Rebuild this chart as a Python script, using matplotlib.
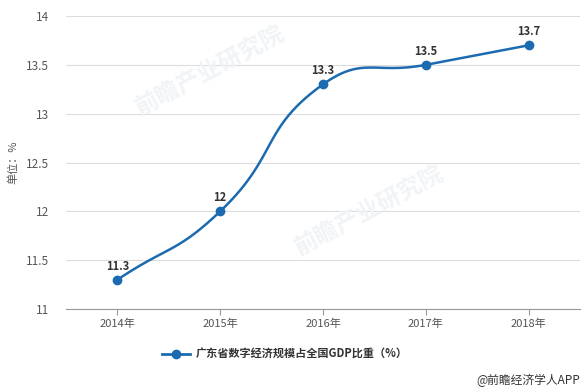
import numpy as np
import matplotlib.pyplot as plt

plt.rcParams['font.family'] = ['Noto Sans CJK SC', 'DejaVu Sans']

years = ['2014年', '2015年', '2016年', '2017年', '2018年']
share = [11.3, 12, 13.3, 13.5, 13.7]
series_name = '广东省数字经济规模占全国GDP比重（%）'
y_ticks = [11, 11.5, 12, 12.5, 13, 13.5, 14]

line_color = '#1c6bb0'


def smooth_curve(px, py, smooth=0.5, n=30):
    # bezier smoothing like echarts, done in pixel-ish space
    pts = np.column_stack([px, py])
    m = len(pts)
    cps = []
    for i in range(m):
        prev = pts[max(i - 1, 0)]
        nxt = pts[min(i + 1, m - 1)]
        v = nxt - prev
        d0 = np.linalg.norm(pts[i] - prev)
        d1 = np.linalg.norm(pts[i] - nxt)
        tot = d0 + d1 if d0 + d1 > 0 else 1
        c0 = pts[i] - v * smooth * d0 / tot
        c1 = pts[i] + v * smooth * d1 / tot
        cps.append((c0, c1))
    out = []
    t = np.linspace(0, 1, n)[:, None]
    for i in range(m - 1):
        p0 = pts[i]
        p1 = cps[i][1]
        p2 = cps[i + 1][0]
        p3 = pts[i + 1]
        seg = (1 - t) ** 3 * p0 + 3 * (1 - t) ** 2 * t * p1 + 3 * (1 - t) * t ** 2 * p2 + t ** 3 * p3
        out.append(seg if i == 0 else seg[1:])
    out = np.vstack(out)
    return out[:, 0], out[:, 1]


fig = plt.figure(figsize=(5.86, 3.91), dpi=100)
ax = fig.add_axes([66 / 586, 1 - 309 / 391, 514 / 586, 293 / 391])

x = np.arange(len(years))
ax.set_xlim(-0.5, len(years) - 0.5)
ax.set_ylim(11, 14)

# smooth in pixel-like units
xs_px = x * 102.8
ys_px = np.array(share) * 97.7
sx, sy = smooth_curve(xs_px, ys_px)
ax.plot(sx / 102.8, sy / 97.7, color=line_color, lw=1.8, zorder=3)
ax.plot(x, share, 'o', color=line_color, ms=6, zorder=4)

for xi, v in zip(x, share):
    ax.annotate(f'{v:g}', (xi, v), xytext=(0, 5), textcoords='offset points',
                ha='center', va='bottom', fontsize=8, fontweight='bold', color='#333333')

ax.set_yticks(y_ticks)
ax.set_yticklabels([f'{v:g}' for v in y_ticks])
ax.set_xticks(x)
ax.set_xticklabels(years)
ax.grid(axis='y', color='#dcdcdc', lw=0.8)
ax.set_axisbelow(True)
for s in ['top', 'right', 'left']:
    ax.spines[s].set_visible(False)
ax.spines['bottom'].set_color('#999999')
ax.tick_params(axis='y', length=0, labelsize=8.5, labelcolor='#555555', pad=12)
ax.tick_params(axis='x', length=4, color='#999999', labelsize=8, labelcolor='#555555', pad=3)
ax.set_ylabel('单位：%', fontsize=8, color='#555555', labelpad=6)

# faint watermarks
for wx, wy in [(0.36, 0.82), (0.63, 0.46)]:
    fig.text(wx, wy, '前瞻产业研究院', fontsize=17, fontweight='bold', color='#f1f4f7',
             rotation=28, ha='center', va='center', zorder=0)

# legend
lx, ly = 176 / 586, 1 - 354 / 391
fig.lines.append(plt.Line2D([lx - 14 / 586, lx + 14 / 586], [ly, ly], color=line_color, lw=2,
                            transform=fig.transFigure))
fig.lines.append(plt.Line2D([lx], [ly], marker='o', ms=6, color=line_color,
                            transform=fig.transFigure))
fig.text(lx + 20 / 586, ly, series_name, fontsize=8, fontweight='bold', color='#333333',
         va='center', ha='left')

fig.text(580 / 586, 1 - 380 / 391, '@前瞻经济学人APP', fontsize=8.5, color='#333333',
         ha='right', va='center')

fig.savefig('out.png', dpi=100)
